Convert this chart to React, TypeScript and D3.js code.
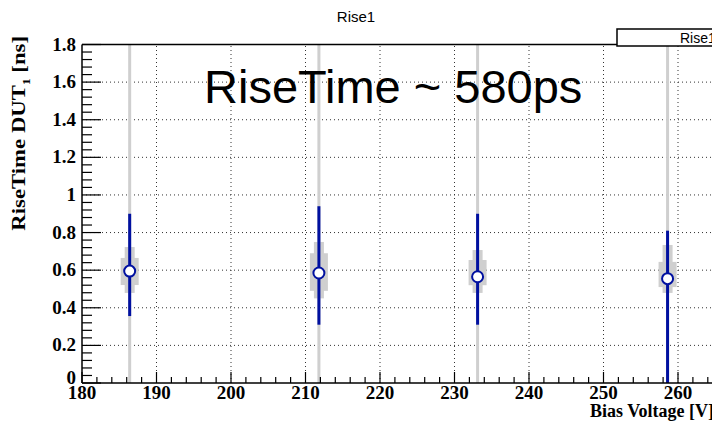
import * as d3 from "d3";

// Bias voltage scan, rise time of DUT1
const biasVoltage = [186.4, 211.8, 233.1, 258.6];
const riseTime = [0.595, 0.585, 0.565, 0.555];
const errLow = [0.356, 0.31, 0.31, 0.0];
const errHigh = [0.9, 0.94, 0.9, 0.81];
// gray spread bands around each point (outer / inner)
const bandOuterLow = [0.479, 0.45, 0.479, 0.479];
const bandOuterHigh = [0.723, 0.75, 0.707, 0.734];
const bandInnerLow = [0.521, 0.49, 0.52, 0.51];
const bandInnerHigh = [0.665, 0.69, 0.654, 0.644];

const xTicks = [180, 190, 200, 210, 220, 230, 240, 250, 260];
const yTicks = [0, 0.2, 0.4, 0.6, 0.8, 1, 1.2, 1.4, 1.6, 1.8];

const width = 712;
const height = 425;

export default function App() {
  const x = d3.scaleLinear().domain([180, 270]).range([82, 752.5]);
  const y = d3.scaleLinear().domain([0, 1.8]).range([383, 44.5]);

  const xMinor = d3.range(180, 270.01, 2);
  const yMinor = d3.range(0, 1.801, 0.04);

  const serif = "'Liberation Serif', 'Times New Roman', serif";
  const sans = "'Liberation Sans', Arial, sans-serif";

  const points = biasVoltage.map((v, i) => ({
    v,
    t: riseTime[i],
    lo: errLow[i],
    hi: errHigh[i],
    oLo: bandOuterLow[i],
    oHi: bandOuterHigh[i],
    iLo: bandInnerLow[i],
    iHi: bandInnerHigh[i],
  }));

  const r = 5.5;

  return (
    <svg
      width={width}
      height={height}
      style={{ position: "absolute", left: 0, top: 0, background: "#fff" }}
    >
      <rect width={width} height={height} fill="#fff" />
      <text x={356} y={22} textAnchor="middle" fontFamily={sans} fontSize={15}>
        Rise1
      </text>

      {/* grid */}
      <g stroke="#333" strokeWidth={1} strokeDasharray="1,3">
        {xTicks.slice(1).map((t) => (
          <line key={"gx" + t} x1={x(t)} x2={x(t)} y1={y(0)} y2={y(1.8)} />
        ))}
        {yTicks.slice(1, -1).map((t) => (
          <line key={"gy" + t} x1={x(180)} x2={width} y1={y(t)} y2={y(t)} />
        ))}
      </g>

      {/* gray full-range lines and bands */}
      {points.map((p, i) => (
        <g key={"band" + i} fill="#cfcfcf">
          <line x1={x(p.v)} x2={x(p.v)} y1={y(0)} y2={y(1.8)} stroke="#cfcfcf" strokeWidth={3} />
          <rect x={x(p.v) - 5} width={10} y={y(p.oHi)} height={y(p.oLo) - y(p.oHi)} />
          <rect x={x(p.v) - 9} width={18} y={y(p.iHi)} height={y(p.iLo) - y(p.iHi)} />
        </g>
      ))}

      {/* blue error bars and markers */}
      {points.map((p, i) => (
        <g key={"pt" + i}>
          <line x1={x(p.v)} x2={x(p.v)} y1={y(p.hi)} y2={y(p.t) - r} stroke="#0010a0" strokeWidth={3} />
          <line x1={x(p.v)} x2={x(p.v)} y1={y(p.t) + r} y2={y(p.lo)} stroke="#0010a0" strokeWidth={3} />
          <circle cx={x(p.v)} cy={y(p.t)} r={r} fill="#fff" stroke="#0010a0" strokeWidth={2} />
        </g>
      ))}

      {/* frame */}
      <g stroke="#000" strokeWidth={1.5} fill="none">
        <line x1={x(180)} x2={width} y1={y(0)} y2={y(0)} />
        <line x1={x(180)} x2={width} y1={y(1.8)} y2={y(1.8)} />
        <line x1={x(180)} x2={x(180)} y1={y(0)} y2={y(1.8)} />
      </g>

      {/* ticks */}
      <g stroke="#000" strokeWidth={1.2}>
        {xMinor.map((t, i) => {
          const major = Math.abs(t % 10) < 0.001;
          return (
            <line key={"tx" + i} x1={x(t)} x2={x(t)} y1={y(0)} y2={y(0) - (major ? 11 : 6)} />
          );
        })}
        {yMinor.map((t, i) => {
          const major = i % 5 === 0;
          return (
            <line key={"ty" + i} x1={x(180)} x2={x(180) + (major ? 19 : 10)} y1={y(t)} y2={y(t)} />
          );
        })}
      </g>

      {/* tick labels */}
      <g fontFamily={serif} fontWeight="bold" fontSize={19}>
        {xTicks.map((t) => (
          <text key={"lx" + t} x={x(t)} y={399} textAnchor="middle">
            {t}
          </text>
        ))}
        {yTicks.map((t) => (
          <text key={"ly" + t} x={76} y={y(t) + (t === 0 ? 1 : 6)} textAnchor="end">
            {d3.format("")(t)}
          </text>
        ))}
      </g>

      {/* axis titles */}
      <text x={714} y={417} textAnchor="end" fontFamily={serif} fontWeight="bold" fontSize={18}>
        Bias Voltage [V]
      </text>
      <text
        transform="translate(25,36) rotate(-90) scale(1.2,1)"
        textAnchor="end"
        fontFamily={serif}
        fontWeight="bold"
        fontSize={19}
      >
        RiseTime DUT
        <tspan fontSize={11} dy={5}>1</tspan>
        <tspan dy={-5}> [ns]</tspan>
      </text>

      {/* big annotation */}
      <text x={204} y={103} fontFamily={sans} fontSize={47}>
        RiseTime ~ 580ps
      </text>

      {/* legend box */}
      <rect x={617} y={29} width={120} height={17} fill="#fff" stroke="#000" strokeWidth={1.5} />
      <text x={680} y={43} fontFamily={sans} fontSize={14}>
        Rise1
      </text>
    </svg>
  );
}
